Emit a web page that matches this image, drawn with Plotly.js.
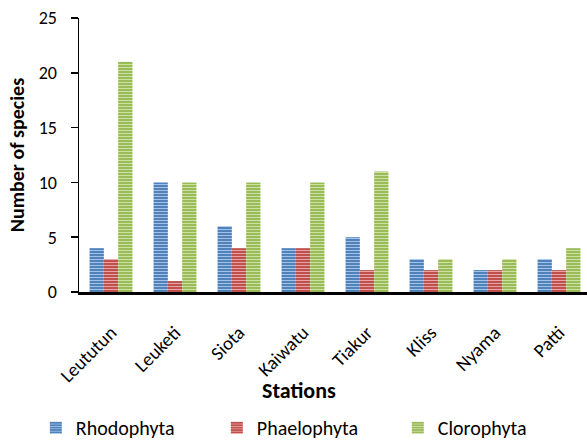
<!DOCTYPE html>
<html><head><meta charset="utf-8">
<script src="https://cdn.plot.ly/plotly-3.0.1.min.js"></script>
<style>html,body{margin:0;padding:0;background:#fff}#c{width:587px;height:441px}</style>
</head><body><div id="c"></div>
<script>
const stations = ["Leututun","Leuketi","Siota","Kaiwatu","Tiakur","Kliss","Nyama","Patti"];
const rhodophyta = [4,10,6,4,5,3,2,3];
const phaelophyta = [3,1,4,4,2,2,2,2];
const clorophyta = [21,10,10,10,11,3,3,4];
const seriesNames = ["Rhodophyta","Phaelophyta","Clorophyta"];
const yTicks = [0,5,10,15,20,25];
const xTitle = "Stations";
const yTitle = "Number of species";

const FONT = "Carlito, Lato, 'Open Sans', sans-serif";
const cols = ["#4F81BD","#C0504D","#9BBB59"];
const fg = ["#A4C1E6","#E6A3A1","#CDE2A5"];
const data = [rhodophyta, phaelophyta, clorophyta].map((v,i)=>({
  type:"bar", x:stations, y:v, name:seriesNames[i],
  marker:{color:cols[i], line:{width:0},
    pattern:{shape:"-", bgcolor:cols[i], fgcolor:fg[i], fgopacity:1, size:3, solidity:0.35, fillmode:"overlay"}},
  hoverinfo:"none"
}));
const layout = {
  width:587, height:441,
  margin:{l:79, r:0, t:18, b:149, autoexpand:false},
  paper_bgcolor:"#fff", plot_bgcolor:"#fff",
  barmode:"group", bargap:0.33, bargroupgap:0,
  font:{family:FONT, size:18, color:"#000"},
  xaxis:{range:[-0.5,7.4375], tickangle:-45, showgrid:false, showline:true, linecolor:"#000", linewidth:3,
    ticks:"", automargin:false, ticklabelstandoff:19, tickfont:{family:FONT,size:19,color:"#000"}},
  yaxis:{range:[0,25], tickvals:yTicks, showgrid:false, zeroline:false, showline:true, linecolor:"#000", linewidth:1.5,
    automargin:false, ticks:"outside", ticklen:7, tickwidth:1.5, tickcolor:"#000", ticklabelstandoff:10,
    tickfont:{family:FONT,size:18,color:"#000"},
    title:{text:"<b>"+yTitle+"</b>", font:{family:FONT,size:20,color:"#000"}, standoff:8}},
  annotations:[{text:"<b>"+xTitle+"</b>", xref:"paper", yref:"paper", x:0.433, y:-0.36,
    xanchor:"center", yanchor:"middle", showarrow:false, font:{family:FONT,size:22,color:"#000"}}],
  showlegend:true,
  legend:{orientation:"h", x:-0.085, xanchor:"left", y:-0.495, yanchor:"middle",
    entrywidth:136, entrywidthmode:"pixels", itemwidth:30,
    font:{family:FONT,size:20,color:"#000"}, bgcolor:"rgba(0,0,0,0)"}
};
Plotly.newPlot("c", data, layout, {staticPlot:true, displayModeBar:false});
</script></body></html>
